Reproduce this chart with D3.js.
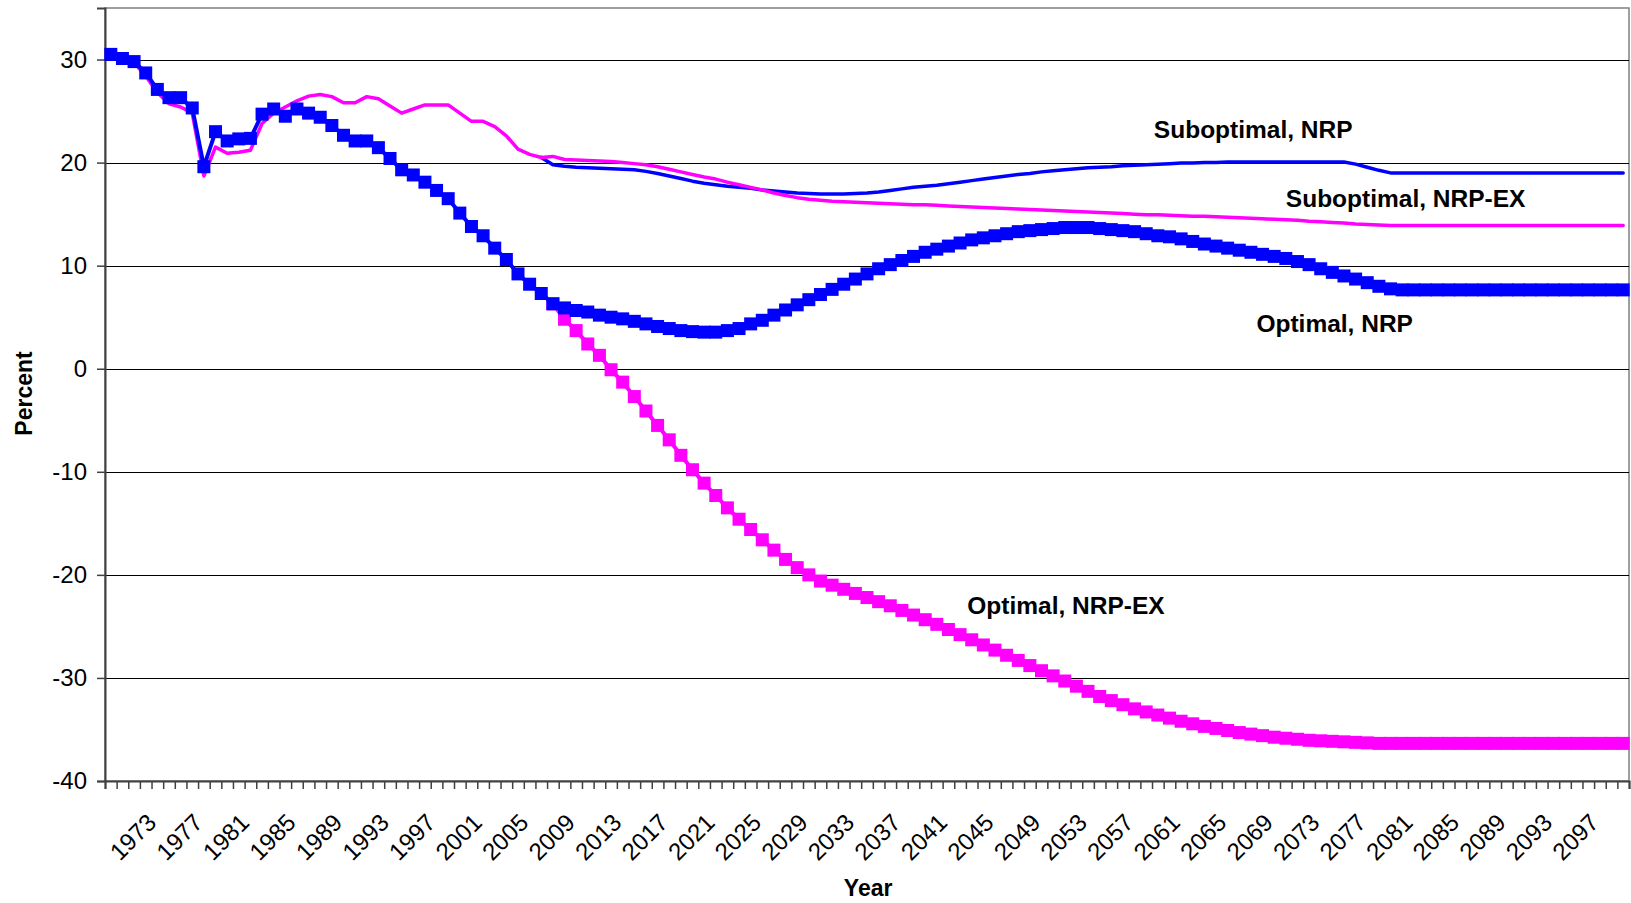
<!DOCTYPE html>
<html>
<head>
<meta charset="utf-8">
<script src="https://cdn.jsdelivr.net/npm/d3@7"></script>
<style>
  body { margin: 0; background: #fff; }
  text { font-family: "Liberation Sans", Arial, sans-serif; fill: #000; }
</style>
</head>
<body>
<div id="chart"></div>
<script>
// --- data (percent) ---
const firstYear = 1970;
const lastYear  = 2100;
const yTicks    = [-40, -30, -20, -10, 0, 10, 20, 30];
const labelYears = d3.range(1973, 2100, 4);

// Optimal, NRP (blue squares), 1970-2100
const optNRPStart = 1970;
const optNRP = [
  30.5, 30.1, 29.8, 28.7, 27.1, 26.3, 26.3, 25.3, 19.6, 23.0,
  22.1, 22.3, 22.35, 24.7, 25.2, 24.5, 25.2, 24.8, 24.4, 23.6,
  22.65, 22.1, 22.1, 21.45, 20.4, 19.3, 18.8, 18.1, 17.3, 16.5,
  15.1, 13.8, 12.9, 11.7, 10.6, 9.2, 8.2, 7.3, 6.3, 5.9,
  5.65, 5.5, 5.2, 5.0, 4.84, 4.6, 4.35, 4.1, 3.9, 3.7,
  3.6, 3.55, 3.55, 3.7, 3.9, 4.35, 4.7, 5.2, 5.7, 6.2,
  6.7, 7.2, 7.7, 8.2, 8.7, 9.2, 9.7, 10.1, 10.5, 10.9,
  11.3, 11.6, 11.9, 12.2, 12.5, 12.7, 12.9, 13.1, 13.3, 13.4,
  13.5, 13.6, 13.7, 13.7, 13.7, 13.6, 13.5, 13.4, 13.3, 13.1,
  12.9, 12.8, 12.6, 12.35, 12.1, 11.9, 11.7, 11.5, 11.3, 11.1,
  10.9, 10.7, 10.4, 10.1, 9.7, 9.35, 9.0, 8.7, 8.35, 8.0,
  7.75, 7.65, 7.65, 7.65, 7.65, 7.65, 7.65, 7.65, 7.65, 7.65,
  7.65, 7.65, 7.65, 7.65, 7.65, 7.65, 7.65, 7.65, 7.65, 7.65,
  7.65
];

// Optimal, NRP-EX (magenta squares), 2008-2100
const optNRPEXStart = 2008;
const optNRPEX = [
  6.3, 4.8,
  3.7, 2.4, 1.3, -0.1, -1.3, -2.7, -4.1, -5.5, -6.9, -8.4,
  -9.8, -11.1, -12.3, -13.5, -14.6, -15.6, -16.6, -17.6, -18.5, -19.3,
  -20.0, -20.6, -21.0, -21.4, -21.8, -22.2, -22.6, -23.0, -23.45, -23.9,
  -24.35, -24.8, -25.3, -25.8, -26.3, -26.8, -27.3, -27.8, -28.3, -28.8,
  -29.3, -29.8, -30.3, -30.8, -31.3, -31.8, -32.2, -32.6, -33.0, -33.3,
  -33.6, -33.9, -34.2, -34.45, -34.7, -34.9, -35.1, -35.3, -35.45, -35.6,
  -35.75, -35.85, -35.95, -36.05, -36.1, -36.15, -36.2, -36.25, -36.3, -36.35,
  -36.35, -36.35, -36.35, -36.35, -36.35, -36.35, -36.35, -36.35, -36.35, -36.35,
  -36.35, -36.35, -36.35, -36.35, -36.35, -36.35, -36.35, -36.35, -36.35, -36.35,
  -36.35
];

// Suboptimal, NRP (thin blue), 2007-2100
const subNRPStart = 2007;
const subNRP = [
  20.5, 19.8, 19.65,
  19.55, 19.5, 19.45, 19.4, 19.35, 19.3, 19.15, 18.95, 18.7, 18.45,
  18.2, 18.0, 17.85, 17.7, 17.6, 17.5, 17.35, 17.25, 17.15, 17.05,
  17.0, 16.95, 16.95, 16.95, 17.0, 17.05, 17.15, 17.3, 17.45, 17.6,
  17.7, 17.8, 17.95, 18.1, 18.25, 18.4, 18.55, 18.7, 18.85, 18.95,
  19.1, 19.2, 19.3, 19.4, 19.5, 19.55, 19.6, 19.7, 19.75, 19.8,
  19.85, 19.9, 19.95, 19.95, 20.0, 20.0, 20.05, 20.05, 20.05, 20.05,
  20.05, 20.05, 20.05, 20.05, 20.05, 20.05, 20.05, 19.85, 19.55, 19.25,
  19.0, 19.0, 19.0, 19.0, 19.0, 19.0, 19.0, 19.0, 19.0, 19.0,
  19.0, 19.0, 19.0, 19.0, 19.0, 19.0, 19.0, 19.0, 19.0, 19.0,
  19.0
];

// Suboptimal, NRP-EX (thin magenta), 1970-2100
const subNRPEXStart = 1970;
const subNRPEX = [
  30.5, 30.0, 29.7, 28.4, 26.8, 25.7, 25.4, 24.8, 18.7, 21.5,
  20.9, 21.0, 21.2, 23.8, 24.8, 25.4, 26.0, 26.45, 26.6, 26.4,
  25.8, 25.8, 26.4, 26.2, 25.5, 24.8, 25.2, 25.6, 25.6, 25.6,
  24.8, 24.0, 24.0, 23.5, 22.6, 21.3, 20.8, 20.5, 20.6, 20.3,
  20.25, 20.2, 20.15, 20.1, 20.0, 19.9, 19.8, 19.6, 19.35, 19.1,
  18.85, 18.6, 18.4, 18.1, 17.85, 17.6, 17.35, 17.05, 16.8, 16.6,
  16.45, 16.35, 16.25, 16.2, 16.15, 16.1, 16.05, 16.0, 15.95, 15.9,
  15.9, 15.85, 15.8, 15.75, 15.7, 15.65, 15.6, 15.55, 15.5, 15.45,
  15.4, 15.35, 15.3, 15.25, 15.2, 15.15, 15.1, 15.05, 15.0, 14.95,
  14.95, 14.9, 14.85, 14.8, 14.8, 14.75, 14.7, 14.65, 14.6, 14.55,
  14.5, 14.45, 14.4, 14.3, 14.25, 14.2, 14.15, 14.05, 14.0, 13.95,
  13.9, 13.9, 13.9, 13.9, 13.9, 13.9, 13.9, 13.9, 13.9, 13.9,
  13.9, 13.9, 13.9, 13.9, 13.9, 13.9, 13.9, 13.9, 13.9, 13.9,
  13.9
];

// series labels placed in data coordinates (centre of text, baseline)
const seriesLabels = [
  { text: 'Suboptimal, NRP',    year: 2068.2, value: 22.4 },
  { text: 'Suboptimal, NRP-EX', year: 2081.3, value: 15.7 },
  { text: 'Optimal, NRP',       year: 2075.2, value: 3.6 },
  { text: 'Optimal, NRP-EX',    year: 2052.1, value: -23.8 }
];

// --- layout ---
const width = 1631, height = 903;
const plot = { left: 105, right: 1629, top: 8, bottom: 781 };
const blue = '#0000ff', magenta = '#ff00ff';

const svg = d3.select('#chart').append('svg')
  .attr('width', width)
  .attr('height', height);

const x = d3.scaleLinear()
  .domain([firstYear - 0.5, lastYear + 0.5])
  .range([plot.left, plot.right]);

const y = d3.scaleLinear()
  .domain([-40, 35])
  .range([plot.bottom, plot.top]);

function toPoints(start, values) {
  return values.map((v, i) => ({ year: start + i, value: v }));
}

// plot area border
svg.append('rect')
  .attr('x', plot.left)
  .attr('y', plot.top)
  .attr('width', plot.right - plot.left)
  .attr('height', plot.bottom - plot.top)
  .attr('fill', 'none')
  .attr('stroke', '#808080')
  .attr('stroke-width', 1.5);

// gridlines
svg.append('g')
  .selectAll('line')
  .data(yTicks.filter(t => t > -40))
  .join('line')
  .attr('x1', plot.left)
  .attr('x2', plot.right)
  .attr('y1', d => Math.round(y(d)) + 0.5)
  .attr('y2', d => Math.round(y(d)) + 0.5)
  .attr('stroke', '#000')
  .attr('stroke-width', 1);

// y axis (plain hyphen for negatives, like the original)
const yAxis = svg.append('g')
  .attr('transform', `translate(${plot.left},0)`)
  .call(d3.axisLeft(y).tickValues(yTicks).tickSize(8).tickPadding(10).tickFormat(d => String(d)));
yAxis.select('.domain').attr('stroke', '#404040').attr('stroke-width', 2);
yAxis.selectAll('.tick line').attr('stroke', '#404040').attr('stroke-width', 1.5);
yAxis.selectAll('.tick text').style('font-size', '24px').attr('fill', '#000');

// x axis: tick marks on category boundaries
const xTickAxis = svg.append('g')
  .attr('transform', `translate(0,${plot.bottom})`)
  .call(d3.axisBottom(x)
    .tickValues(d3.range(firstYear - 0.5, lastYear + 1, 1))
    .tickSize(8)
    .tickFormat(''));
xTickAxis.select('.domain').attr('stroke', '#404040').attr('stroke-width', 2);
xTickAxis.selectAll('.tick line').attr('stroke', '#404040').attr('stroke-width', 1.5);

// x labels, rotated
svg.append('g')
  .selectAll('text')
  .data(labelYears)
  .join('text')
  .attr('transform', d => `translate(${x(d) + 6},${plot.bottom + 37}) rotate(-45)`)
  .attr('text-anchor', 'end')
  .attr('dy', '0.35em')
  .style('font-size', '24px')
  .text(d => d);

// axis titles
svg.append('text')
  .attr('x', x(2035.1))
  .attr('y', 896)
  .attr('text-anchor', 'middle')
  .style('font-size', '23px')
  .style('font-weight', 'bold')
  .text('Year');

svg.append('text')
  .attr('transform', `translate(32,${y(-2.4)}) rotate(-90)`)
  .attr('text-anchor', 'middle')
  .style('font-size', '23px')
  .style('font-weight', 'bold')
  .text('Percent');

// --- series ---
const line = d3.line()
  .x(d => x(d.year))
  .y(d => y(d.value));

function drawLine(points, color, w) {
  svg.append('path')
    .datum(points)
    .attr('fill', 'none')
    .attr('stroke', color)
    .attr('stroke-width', w)
    .attr('stroke-linejoin', 'round')
    .attr('stroke-linecap', 'round')
    .attr('d', line);
}

function drawMarkers(points, color, size) {
  svg.append('g')
    .selectAll('rect')
    .data(points)
    .join('rect')
    .attr('x', d => x(d.year) - size / 2)
    .attr('y', d => y(d.value) - size / 2)
    .attr('width', size)
    .attr('height', size)
    .attr('fill', color);
}

const optEXPts  = toPoints(optNRPEXStart, optNRPEX);
const subPts    = toPoints(subNRPStart, subNRP);
const subEXPts  = toPoints(subNRPEXStart, subNRPEX);
const optPts    = toPoints(optNRPStart, optNRP);

drawLine(optEXPts, magenta, 4);
drawMarkers(optEXPts, magenta, 13);
drawLine(subPts, blue, 3.5);
drawLine(subEXPts, magenta, 3.5);
drawLine(optPts, blue, 4);
drawMarkers(optPts, blue, 13);

// series labels
svg.append('g')
  .selectAll('text')
  .data(seriesLabels)
  .join('text')
  .attr('x', d => x(d.year))
  .attr('y', d => y(d.value))
  .attr('text-anchor', 'middle')
  .style('font-size', '24.5px')
  .style('font-weight', 'bold')
  .text(d => d.text);
</script>
</body>
</html>
